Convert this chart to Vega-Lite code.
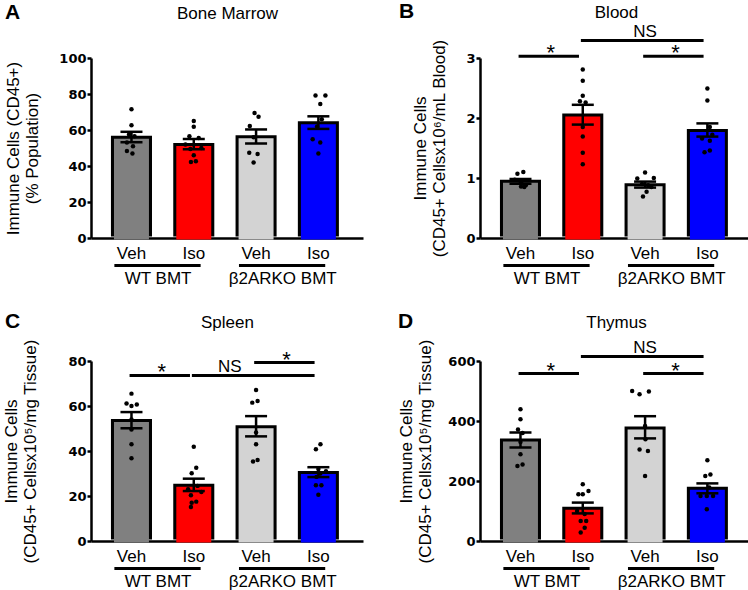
{
  "$schema": "https://vega.github.io/schema/vega-lite/v6.json",
  "background": "white",
  "padding": {"left": 2, "top": 1, "right": 0, "bottom": 0},
  "columns": 2,
  "spacing": {"row": 123, "column": 117},
  "bounds": "flush",
  "datasets": {
    "summary": [
      {"p": "A", "g": "WT|Veh", "mean": 56, "lo": 53.2, "hi": 59.0},
      {"p": "A", "g": "WT|Iso", "mean": 52, "lo": 49.3, "hi": 55.0},
      {"p": "A", "g": "KO|Veh", "mean": 56.3, "lo": 52.5, "hi": 60.3},
      {"p": "A", "g": "KO|Iso", "mean": 64, "lo": 60.6, "hi": 67.6},
      {"p": "B", "g": "WT|Veh", "mean": 0.945, "lo": 0.905, "hi": 0.985},
      {"p": "B", "g": "WT|Iso", "mean": 2.05, "lo": 1.89, "hi": 2.22},
      {"p": "B", "g": "KO|Veh", "mean": 0.888, "lo": 0.84, "hi": 0.94},
      {"p": "B", "g": "KO|Iso", "mean": 1.79, "lo": 1.69, "hi": 1.91},
      {"p": "C", "g": "WT|Veh", "mean": 53.6, "lo": 50.1, "hi": 57.3},
      {"p": "C", "g": "WT|Iso", "mean": 24.8, "lo": 22.2, "hi": 27.7},
      {"p": "C", "g": "KO|Veh", "mean": 50.8, "lo": 46.5, "hi": 55.5},
      {"p": "C", "g": "KO|Iso", "mean": 30.4, "lo": 28.4, "hi": 32.8},
      {"p": "D", "g": "WT|Veh", "mean": 336.7, "lo": 312, "hi": 362},
      {"p": "D", "g": "WT|Iso", "mean": 109, "lo": 92, "hi": 128},
      {"p": "D", "g": "KO|Veh", "mean": 376.7, "lo": 342, "hi": 416},
      {"p": "D", "g": "KO|Iso", "mean": 175.6, "lo": 159, "hi": 192}
    ],
    "points": [
      {"p": "A", "g": "WT|Veh", "v": 71.5, "j": 0},
      {"p": "A", "g": "WT|Veh", "v": 62.7, "j": 0},
      {"p": "A", "g": "WT|Veh", "v": 57.5, "j": -0.13},
      {"p": "A", "g": "WT|Veh", "v": 56.5, "j": 0.16},
      {"p": "A", "g": "WT|Veh", "v": 53, "j": -0.24},
      {"p": "A", "g": "WT|Veh", "v": 51, "j": 0.08},
      {"p": "A", "g": "WT|Veh", "v": 48.3, "j": -0.24},
      {"p": "A", "g": "WT|Veh", "v": 47, "j": 0.05},
      {"p": "A", "g": "WT|Iso", "v": 65, "j": 0},
      {"p": "A", "g": "WT|Iso", "v": 61.8, "j": 0},
      {"p": "A", "g": "WT|Iso", "v": 56.5, "j": -0.23},
      {"p": "A", "g": "WT|Iso", "v": 55.5, "j": 0.26},
      {"p": "A", "g": "WT|Iso", "v": 52, "j": -0.44},
      {"p": "A", "g": "WT|Iso", "v": 50, "j": 0.4},
      {"p": "A", "g": "WT|Iso", "v": 49.5, "j": -0.18},
      {"p": "A", "g": "WT|Iso", "v": 46, "j": 0},
      {"p": "A", "g": "WT|Iso", "v": 42.2, "j": -0.15},
      {"p": "A", "g": "WT|Iso", "v": 42.6, "j": 0.11},
      {"p": "A", "g": "KO|Veh", "v": 69.5, "j": -0.08},
      {"p": "A", "g": "KO|Veh", "v": 67.3, "j": 0.13},
      {"p": "A", "g": "KO|Veh", "v": 62.2, "j": -0.33},
      {"p": "A", "g": "KO|Veh", "v": 56, "j": -0.13},
      {"p": "A", "g": "KO|Veh", "v": 47.4, "j": -0.36},
      {"p": "A", "g": "KO|Veh", "v": 46.7, "j": 0.08},
      {"p": "A", "g": "KO|Veh", "v": 41.9, "j": -0.13},
      {"p": "A", "g": "KO|Iso", "v": 79.2, "j": -0.15},
      {"p": "A", "g": "KO|Iso", "v": 79.2, "j": 0.37},
      {"p": "A", "g": "KO|Iso", "v": 74.4, "j": 0.1},
      {"p": "A", "g": "KO|Iso", "v": 66, "j": 0.18},
      {"p": "A", "g": "KO|Iso", "v": 62, "j": -0.07},
      {"p": "A", "g": "KO|Iso", "v": 54.8, "j": -0.3},
      {"p": "A", "g": "KO|Iso", "v": 53, "j": 0.1},
      {"p": "A", "g": "KO|Iso", "v": 47, "j": 0},
      {"p": "B", "g": "WT|Veh", "v": 1.1, "j": 0.15},
      {"p": "B", "g": "WT|Veh", "v": 1.07, "j": -0.16},
      {"p": "B", "g": "WT|Veh", "v": 0.97, "j": -0.3},
      {"p": "B", "g": "WT|Veh", "v": 0.93, "j": 0.03},
      {"p": "B", "g": "WT|Veh", "v": 0.88, "j": 0.28},
      {"p": "B", "g": "WT|Veh", "v": 0.86, "j": 0.03},
      {"p": "B", "g": "WT|Veh", "v": 0.85, "j": 0.2},
      {"p": "B", "g": "WT|Iso", "v": 2.81, "j": 0},
      {"p": "B", "g": "WT|Iso", "v": 2.62, "j": 0},
      {"p": "B", "g": "WT|Iso", "v": 2.37, "j": 0},
      {"p": "B", "g": "WT|Iso", "v": 2.28, "j": -0.15},
      {"p": "B", "g": "WT|Iso", "v": 2.26, "j": 0.15},
      {"p": "B", "g": "WT|Iso", "v": 1.85, "j": 0},
      {"p": "B", "g": "WT|Iso", "v": 1.69, "j": 0},
      {"p": "B", "g": "WT|Iso", "v": 1.42, "j": 0},
      {"p": "B", "g": "WT|Iso", "v": 1.23, "j": 0},
      {"p": "B", "g": "KO|Veh", "v": 1.09, "j": 0},
      {"p": "B", "g": "KO|Veh", "v": 0.99, "j": -0.41},
      {"p": "B", "g": "KO|Veh", "v": 1.0, "j": 0.46},
      {"p": "B", "g": "KO|Veh", "v": 0.9, "j": -0.16},
      {"p": "B", "g": "KO|Veh", "v": 0.88, "j": 0.16},
      {"p": "B", "g": "KO|Veh", "v": 0.85, "j": 0.33},
      {"p": "B", "g": "KO|Veh", "v": 0.77, "j": 0.08},
      {"p": "B", "g": "KO|Veh", "v": 0.69, "j": -0.11},
      {"p": "B", "g": "KO|Iso", "v": 2.49, "j": 0},
      {"p": "B", "g": "KO|Iso", "v": 2.29, "j": 0},
      {"p": "B", "g": "KO|Iso", "v": 1.85, "j": 0.13},
      {"p": "B", "g": "KO|Iso", "v": 1.72, "j": 0.26},
      {"p": "B", "g": "KO|Iso", "v": 1.66, "j": -0.28},
      {"p": "B", "g": "KO|Iso", "v": 1.62, "j": 0.13},
      {"p": "B", "g": "KO|Iso", "v": 1.46, "j": 0.13},
      {"p": "B", "g": "KO|Iso", "v": 1.43, "j": -0.15},
      {"p": "C", "g": "WT|Veh", "v": 65.5, "j": 0},
      {"p": "C", "g": "WT|Veh", "v": 61.1, "j": -0.26},
      {"p": "C", "g": "WT|Veh", "v": 60, "j": 0},
      {"p": "C", "g": "WT|Veh", "v": 60.7, "j": 0.28},
      {"p": "C", "g": "WT|Veh", "v": 54, "j": 0},
      {"p": "C", "g": "WT|Veh", "v": 49.6, "j": 0},
      {"p": "C", "g": "WT|Veh", "v": 43, "j": 0},
      {"p": "C", "g": "WT|Veh", "v": 36.8, "j": 0},
      {"p": "C", "g": "WT|Iso", "v": 41.9, "j": 0},
      {"p": "C", "g": "WT|Iso", "v": 32.6, "j": 0.13},
      {"p": "C", "g": "WT|Iso", "v": 30.1, "j": -0.11},
      {"p": "C", "g": "WT|Iso", "v": 24.5, "j": 0.2},
      {"p": "C", "g": "WT|Iso", "v": 23, "j": -0.3},
      {"p": "C", "g": "WT|Iso", "v": 21.8, "j": 0.4},
      {"p": "C", "g": "WT|Iso", "v": 20.3, "j": -0.15},
      {"p": "C", "g": "WT|Iso", "v": 17.5, "j": 0.13},
      {"p": "C", "g": "WT|Iso", "v": 17, "j": -0.11},
      {"p": "C", "g": "WT|Iso", "v": 15.1, "j": -0.15},
      {"p": "C", "g": "KO|Veh", "v": 67.1, "j": 0},
      {"p": "C", "g": "KO|Veh", "v": 61.5, "j": -0.2},
      {"p": "C", "g": "KO|Veh", "v": 62.2, "j": 0.08},
      {"p": "C", "g": "KO|Veh", "v": 48.2, "j": 0},
      {"p": "C", "g": "KO|Veh", "v": 43, "j": 0},
      {"p": "C", "g": "KO|Veh", "v": 35.3, "j": -0.16},
      {"p": "C", "g": "KO|Veh", "v": 36, "j": 0.08},
      {"p": "C", "g": "KO|Iso", "v": 43, "j": 0.11},
      {"p": "C", "g": "KO|Iso", "v": 40.8, "j": -0.13},
      {"p": "C", "g": "KO|Iso", "v": 32, "j": 0},
      {"p": "C", "g": "KO|Iso", "v": 31, "j": 0.4},
      {"p": "C", "g": "KO|Iso", "v": 30, "j": 0.1},
      {"p": "C", "g": "KO|Iso", "v": 28.5, "j": -0.1},
      {"p": "C", "g": "KO|Iso", "v": 24.8, "j": -0.13},
      {"p": "C", "g": "KO|Iso", "v": 24.8, "j": 0.16},
      {"p": "C", "g": "KO|Iso", "v": 20.6, "j": 0},
      {"p": "D", "g": "WT|Veh", "v": 439, "j": 0},
      {"p": "D", "g": "WT|Veh", "v": 405.6, "j": 0},
      {"p": "D", "g": "WT|Veh", "v": 372, "j": -0.13},
      {"p": "D", "g": "WT|Veh", "v": 360, "j": 0.11},
      {"p": "D", "g": "WT|Veh", "v": 330, "j": 0},
      {"p": "D", "g": "WT|Veh", "v": 289, "j": 0},
      {"p": "D", "g": "WT|Veh", "v": 250, "j": -0.16},
      {"p": "D", "g": "WT|Veh", "v": 255, "j": 0.11},
      {"p": "D", "g": "WT|Iso", "v": 189, "j": 0},
      {"p": "D", "g": "WT|Iso", "v": 166.7, "j": 0.3},
      {"p": "D", "g": "WT|Iso", "v": 155.6, "j": -0.23},
      {"p": "D", "g": "WT|Iso", "v": 155.6, "j": 0},
      {"p": "D", "g": "WT|Iso", "v": 100, "j": -0.3},
      {"p": "D", "g": "WT|Iso", "v": 90, "j": 0.1},
      {"p": "D", "g": "WT|Iso", "v": 66.7, "j": -0.11},
      {"p": "D", "g": "WT|Iso", "v": 66.7, "j": 0.18},
      {"p": "D", "g": "WT|Iso", "v": 44.4, "j": 0.1},
      {"p": "D", "g": "WT|Iso", "v": 28, "j": -0.11},
      {"p": "D", "g": "KO|Veh", "v": 500, "j": -0.68},
      {"p": "D", "g": "KO|Veh", "v": 489, "j": -0.29},
      {"p": "D", "g": "KO|Veh", "v": 498, "j": 0.2},
      {"p": "D", "g": "KO|Veh", "v": 383, "j": 0},
      {"p": "D", "g": "KO|Veh", "v": 339, "j": 0.02},
      {"p": "D", "g": "KO|Veh", "v": 305, "j": -0.29},
      {"p": "D", "g": "KO|Veh", "v": 300, "j": 0.15},
      {"p": "D", "g": "KO|Veh", "v": 217, "j": 0},
      {"p": "D", "g": "KO|Iso", "v": 269, "j": 0},
      {"p": "D", "g": "KO|Iso", "v": 222, "j": 0.16},
      {"p": "D", "g": "KO|Iso", "v": 217, "j": -0.11},
      {"p": "D", "g": "KO|Iso", "v": 178, "j": 0.1},
      {"p": "D", "g": "KO|Iso", "v": 150, "j": -0.36},
      {"p": "D", "g": "KO|Iso", "v": 150, "j": -0.03},
      {"p": "D", "g": "KO|Iso", "v": 150, "j": 0.3},
      {"p": "D", "g": "KO|Iso", "v": 106, "j": -0.03}
    ],
    "brackets": [
      {"p": "B", "from": "WT|Veh", "to": "WT|Iso", "y": 3.03},
      {"p": "B", "from": "WT|Iso", "to": "KO|Iso", "y": 3.29},
      {"p": "B", "from": "KO|Veh", "to": "KO|Iso", "y": 3.03},
      {"p": "C", "from": "WT|Veh", "to": "WT|Iso", "y": 73.6},
      {"p": "C", "from": "WT|Iso", "to": "KO|Iso", "y": 73.6},
      {"p": "C", "from": "KO|Veh", "to": "KO|Iso", "y": 79.3},
      {"p": "D", "from": "WT|Veh", "to": "WT|Iso", "y": 558},
      {"p": "D", "from": "WT|Iso", "to": "KO|Iso", "y": 615},
      {"p": "D", "from": "KO|Veh", "to": "KO|Iso", "y": 558}
    ],
    "notes": [
      {"p": "B", "label": "*", "at": "WT|Veh", "y": 3.03},
      {"p": "B", "label": "NS", "at": "KO|Veh", "y": 3.29},
      {"p": "B", "label": "*", "at": "KO|Veh", "y": 3.03},
      {"p": "C", "label": "*", "at": "WT|Veh", "y": 73.6},
      {"p": "C", "label": "NS", "at": "WT|Iso", "y": 73.6},
      {"p": "C", "label": "*", "at": "KO|Veh", "y": 79.3},
      {"p": "D", "label": "*", "at": "WT|Veh", "y": 558},
      {"p": "D", "label": "NS", "at": "KO|Veh", "y": 615},
      {"p": "D", "label": "*", "at": "KO|Veh", "y": 558}
    ],
    "groups": [
      {"label": "WT BMT", "from": "WT|Veh", "to": "WT|Iso"},
      {"label": "β2ARKO BMT", "from": "KO|Veh", "to": "KO|Iso"}
    ]
  },
  "concat": [
    {
      "width": 272, "height": 180,
      "title": {"text": "A", "anchor": "start", "frame": "group", "fontSize": 21, "fontWeight": "bold", "font": "Liberation Sans", "offset": -19, "dx": -86},
      "resolve": {"axis": {"x": "independent"}, "scale": {"xOffset": "independent"}},
      "layer": [
        {
          "data": {"name": "summary"}, "transform": [{"filter": "datum.p == 'A'"}],
          "mark": {"type": "bar", "color": "black", "width": {"band": 1.08}, "yOffset": -1.5},
          "encoding": {
            "x": {"field": "g", "type": "nominal", "scale": {"domain": ["WT|Veh", "WT|Iso", "KO|Veh", "KO|Iso"], "paddingInner": 0.39, "paddingOuter": 0.378, "align": 0.456}, "axis": {"title": null, "labelExpr": "split(datum.value, '|')[1]"}},
            "y": {"field": "mean", "type": "quantitative", "scale": {"domain": [0, 100], "nice": false}, "axis": {"values": [0, 20, 40, 60, 80, 100], "tickCount": 10, "format": "d", "labelOverlap": false, "title": ["Immune Cells (CD45+)", "(% Population)"], "titlePadding": 17}}
          }
        },
        {
          "data": {"name": "summary"}, "transform": [{"filter": "datum.p == 'A'"}],
          "mark": {"type": "bar", "width": {"band": 0.92}, "yOffset": 1.5},
          "encoding": {
            "x": {"field": "g", "type": "nominal", "axis": null},
            "y": {"field": "mean", "type": "quantitative"},
            "fill": {"field": "g", "type": "nominal", "scale": {"domain": ["WT|Veh", "WT|Iso", "KO|Veh", "KO|Iso"], "range": ["#808080", "#ff0000", "#d3d3d3", "#0000ff"]}, "legend": null}
          }
        },
        {
          "data": {"name": "points"}, "transform": [{"filter": "datum.p == 'A'"}],
          "mark": {"type": "circle", "size": 20, "color": "black", "opacity": 1},
          "encoding": {
            "x": {"field": "g", "type": "nominal", "axis": {"orient": "top", "title": "Bone Marrow", "titlePadding": 36}},
            "xOffset": {"field": "j", "type": "quantitative", "scale": {"domain": [-1, 1]}},
            "y": {"field": "v", "type": "quantitative"}
          }
        },
        {
          "data": {"name": "summary"}, "transform": [{"filter": "datum.p == 'A'"}],
          "mark": {"type": "rule", "color": "black", "strokeWidth": 2.5},
          "encoding": {
            "x": {"field": "g", "type": "nominal", "axis": null},
            "y": {"field": "lo", "type": "quantitative"},
            "y2": {"field": "hi"}
          }
        },
        {
          "data": {"name": "summary"}, "transform": [{"filter": "datum.p == 'A'"}],
          "mark": {"type": "tick", "color": "black", "size": 22, "thickness": 2.5, "opacity": 1},
          "encoding": {
            "x": {"field": "g", "type": "nominal", "axis": null},
            "y": {"field": "lo", "type": "quantitative"}
          }
        },
        {
          "data": {"name": "summary"}, "transform": [{"filter": "datum.p == 'A'"}],
          "mark": {"type": "tick", "color": "black", "size": 22, "thickness": 2.5, "opacity": 1},
          "encoding": {
            "x": {"field": "g", "type": "nominal", "axis": null},
            "y": {"field": "hi", "type": "quantitative"}
          }
        },
        {
          "data": {"name": "groups"},
          "mark": {"type": "rule", "color": "black", "strokeWidth": 3, "yOffset": 27.5},
          "encoding": {
            "x": {"field": "from", "type": "nominal", "bandPosition": 0.05, "axis": null},
            "x2": {"field": "to", "bandPosition": 0.68},
            "y": {"datum": 0}
          }
        },
        {
          "data": {"name": "groups"},
          "mark": {"type": "text", "color": "black", "fontSize": 17, "font": "Liberation Sans", "baseline": "alphabetic", "dy": 45.5},
          "encoding": {
            "x": {"field": "from", "type": "nominal", "bandPosition": 1.2, "axis": null},
            "y": {"datum": 0},
            "text": {"field": "label"}
          }
        }
      ]
    },
    {
      "width": 272, "height": 180,
      "title": {"text": "B", "anchor": "start", "frame": "group", "fontSize": 21, "fontWeight": "bold", "font": "Liberation Sans", "offset": -19, "dx": -81},
      "resolve": {"axis": {"x": "independent"}, "scale": {"xOffset": "independent"}},
      "layer": [
        {
          "data": {"name": "summary"}, "transform": [{"filter": "datum.p == 'B'"}],
          "mark": {"type": "bar", "color": "black", "width": {"band": 1.08}, "yOffset": -1.5},
          "encoding": {
            "x": {"field": "g", "type": "nominal", "scale": {"domain": ["WT|Veh", "WT|Iso", "KO|Veh", "KO|Iso"], "paddingInner": 0.39, "paddingOuter": 0.378, "align": 0.456}, "axis": {"title": null, "labelExpr": "split(datum.value, '|')[1]"}},
            "y": {"field": "mean", "type": "quantitative", "scale": {"domain": [0, 3], "nice": false}, "axis": {"values": [0, 1, 2, 3], "tickCount": 10, "format": "d", "labelOverlap": false, "title": ["Immune Cells", "(CD45+ Cellsx10⁶/mL Blood)"], "titlePadding": 17}}
          }
        },
        {
          "data": {"name": "summary"}, "transform": [{"filter": "datum.p == 'B'"}],
          "mark": {"type": "bar", "width": {"band": 0.92}, "yOffset": 1.5},
          "encoding": {
            "x": {"field": "g", "type": "nominal", "axis": null},
            "y": {"field": "mean", "type": "quantitative"},
            "fill": {"field": "g", "type": "nominal", "scale": {"domain": ["WT|Veh", "WT|Iso", "KO|Veh", "KO|Iso"], "range": ["#808080", "#ff0000", "#d3d3d3", "#0000ff"]}, "legend": null}
          }
        },
        {
          "data": {"name": "points"}, "transform": [{"filter": "datum.p == 'B'"}],
          "mark": {"type": "circle", "size": 20, "color": "black", "opacity": 1},
          "encoding": {
            "x": {"field": "g", "type": "nominal", "axis": {"orient": "top", "title": "Blood", "titlePadding": 37}},
            "xOffset": {"field": "j", "type": "quantitative", "scale": {"domain": [-1, 1]}},
            "y": {"field": "v", "type": "quantitative"}
          }
        },
        {
          "data": {"name": "summary"}, "transform": [{"filter": "datum.p == 'B'"}],
          "mark": {"type": "rule", "color": "black", "strokeWidth": 2.5},
          "encoding": {
            "x": {"field": "g", "type": "nominal", "axis": null},
            "y": {"field": "lo", "type": "quantitative"},
            "y2": {"field": "hi"}
          }
        },
        {
          "data": {"name": "summary"}, "transform": [{"filter": "datum.p == 'B'"}],
          "mark": {"type": "tick", "color": "black", "size": 22, "thickness": 2.5, "opacity": 1},
          "encoding": {
            "x": {"field": "g", "type": "nominal", "axis": null},
            "y": {"field": "lo", "type": "quantitative"}
          }
        },
        {
          "data": {"name": "summary"}, "transform": [{"filter": "datum.p == 'B'"}],
          "mark": {"type": "tick", "color": "black", "size": 22, "thickness": 2.5, "opacity": 1},
          "encoding": {
            "x": {"field": "g", "type": "nominal", "axis": null},
            "y": {"field": "hi", "type": "quantitative"}
          }
        },
        {
          "data": {"name": "brackets"}, "transform": [{"filter": "datum.p == 'B'"}],
          "mark": {"type": "rule", "color": "black", "strokeWidth": 3},
          "encoding": {
            "x": {"field": "from", "type": "nominal", "bandPosition": 0.45, "axis": null},
            "x2": {"field": "to", "bandPosition": 0.4},
            "y": {"field": "y", "type": "quantitative"}
          }
        },
        {
          "data": {"name": "notes"}, "transform": [{"filter": "datum.p == 'B' && datum.label == '*'"}],
          "mark": {"type": "text", "color": "black", "fontSize": 22, "font": "Liberation Sans", "baseline": "alphabetic", "dy": 4},
          "encoding": {
            "x": {"field": "at", "type": "nominal", "bandPosition": 1.3, "axis": null},
            "y": {"field": "y", "type": "quantitative"},
            "text": {"field": "label"}
          }
        },
        {
          "data": {"name": "notes"}, "transform": [{"filter": "datum.p == 'B' && datum.label == 'NS'"}],
          "mark": {"type": "text", "color": "black", "fontSize": 17, "font": "Liberation Sans", "baseline": "alphabetic", "dy": -3.5},
          "encoding": {
            "x": {"field": "at", "type": "nominal", "bandPosition": 0.5, "axis": null},
            "y": {"field": "y", "type": "quantitative"},
            "text": {"field": "label"}
          }
        },
        {
          "data": {"name": "groups"},
          "mark": {"type": "rule", "color": "black", "strokeWidth": 3, "yOffset": 27.5},
          "encoding": {
            "x": {"field": "from", "type": "nominal", "bandPosition": 0.05, "axis": null},
            "x2": {"field": "to", "bandPosition": 0.68},
            "y": {"datum": 0}
          }
        },
        {
          "data": {"name": "groups"},
          "mark": {"type": "text", "color": "black", "fontSize": 17, "font": "Liberation Sans", "baseline": "alphabetic", "dy": 45.5},
          "encoding": {
            "x": {"field": "from", "type": "nominal", "bandPosition": 1.2, "axis": null},
            "y": {"datum": 0},
            "text": {"field": "label"}
          }
        }
      ]
    },
    {
      "width": 272, "height": 180,
      "title": {"text": "C", "anchor": "start", "frame": "group", "fontSize": 21, "fontWeight": "bold", "font": "Liberation Sans", "offset": -19, "dx": -86},
      "resolve": {"axis": {"x": "independent"}, "scale": {"xOffset": "independent"}},
      "layer": [
        {
          "data": {"name": "summary"}, "transform": [{"filter": "datum.p == 'C'"}],
          "mark": {"type": "bar", "color": "black", "width": {"band": 1.08}, "yOffset": -1.5},
          "encoding": {
            "x": {"field": "g", "type": "nominal", "scale": {"domain": ["WT|Veh", "WT|Iso", "KO|Veh", "KO|Iso"], "paddingInner": 0.39, "paddingOuter": 0.378, "align": 0.456}, "axis": {"title": null, "labelExpr": "split(datum.value, '|')[1]"}},
            "y": {"field": "mean", "type": "quantitative", "scale": {"domain": [0, 80], "nice": false}, "axis": {"values": [0, 20, 40, 60, 80], "tickCount": 10, "format": "d", "labelOverlap": false, "title": ["Immune Cells", "(CD45+ Cellsx10⁵/mg Tissue)"], "titlePadding": 28}}
          }
        },
        {
          "data": {"name": "summary"}, "transform": [{"filter": "datum.p == 'C'"}],
          "mark": {"type": "bar", "width": {"band": 0.92}, "yOffset": 1.5},
          "encoding": {
            "x": {"field": "g", "type": "nominal", "axis": null},
            "y": {"field": "mean", "type": "quantitative"},
            "fill": {"field": "g", "type": "nominal", "scale": {"domain": ["WT|Veh", "WT|Iso", "KO|Veh", "KO|Iso"], "range": ["#808080", "#ff0000", "#d3d3d3", "#0000ff"]}, "legend": null}
          }
        },
        {
          "data": {"name": "points"}, "transform": [{"filter": "datum.p == 'C'"}],
          "mark": {"type": "circle", "size": 20, "color": "black", "opacity": 1},
          "encoding": {
            "x": {"field": "g", "type": "nominal", "axis": {"orient": "top", "title": "Spleen", "titlePadding": 30}},
            "xOffset": {"field": "j", "type": "quantitative", "scale": {"domain": [-1, 1]}},
            "y": {"field": "v", "type": "quantitative"}
          }
        },
        {
          "data": {"name": "summary"}, "transform": [{"filter": "datum.p == 'C'"}],
          "mark": {"type": "rule", "color": "black", "strokeWidth": 2.5},
          "encoding": {
            "x": {"field": "g", "type": "nominal", "axis": null},
            "y": {"field": "lo", "type": "quantitative"},
            "y2": {"field": "hi"}
          }
        },
        {
          "data": {"name": "summary"}, "transform": [{"filter": "datum.p == 'C'"}],
          "mark": {"type": "tick", "color": "black", "size": 22, "thickness": 2.5, "opacity": 1},
          "encoding": {
            "x": {"field": "g", "type": "nominal", "axis": null},
            "y": {"field": "lo", "type": "quantitative"}
          }
        },
        {
          "data": {"name": "summary"}, "transform": [{"filter": "datum.p == 'C'"}],
          "mark": {"type": "tick", "color": "black", "size": 22, "thickness": 2.5, "opacity": 1},
          "encoding": {
            "x": {"field": "g", "type": "nominal", "axis": null},
            "y": {"field": "hi", "type": "quantitative"}
          }
        },
        {
          "data": {"name": "brackets"}, "transform": [{"filter": "datum.p == 'C'"}],
          "mark": {"type": "rule", "color": "black", "strokeWidth": 3},
          "encoding": {
            "x": {"field": "from", "type": "nominal", "bandPosition": 0.45, "axis": null},
            "x2": {"field": "to", "bandPosition": 0.4},
            "y": {"field": "y", "type": "quantitative"}
          }
        },
        {
          "data": {"name": "notes"}, "transform": [{"filter": "datum.p == 'C' && datum.label == '*'"}],
          "mark": {"type": "text", "color": "black", "fontSize": 22, "font": "Liberation Sans", "baseline": "alphabetic", "dy": 4},
          "encoding": {
            "x": {"field": "at", "type": "nominal", "bandPosition": 1.3, "axis": null},
            "y": {"field": "y", "type": "quantitative"},
            "text": {"field": "label"}
          }
        },
        {
          "data": {"name": "notes"}, "transform": [{"filter": "datum.p == 'C' && datum.label == 'NS'"}],
          "mark": {"type": "text", "color": "black", "fontSize": 17, "font": "Liberation Sans", "baseline": "alphabetic", "dy": -3.5},
          "encoding": {
            "x": {"field": "at", "type": "nominal", "bandPosition": 1.45, "axis": null},
            "y": {"field": "y", "type": "quantitative"},
            "text": {"field": "label"}
          }
        },
        {
          "data": {"name": "groups"},
          "mark": {"type": "rule", "color": "black", "strokeWidth": 3, "yOffset": 27.5},
          "encoding": {
            "x": {"field": "from", "type": "nominal", "bandPosition": 0.05, "axis": null},
            "x2": {"field": "to", "bandPosition": 0.68},
            "y": {"datum": 0}
          }
        },
        {
          "data": {"name": "groups"},
          "mark": {"type": "text", "color": "black", "fontSize": 17, "font": "Liberation Sans", "baseline": "alphabetic", "dy": 45.5},
          "encoding": {
            "x": {"field": "from", "type": "nominal", "bandPosition": 1.2, "axis": null},
            "y": {"datum": 0},
            "text": {"field": "label"}
          }
        }
      ]
    },
    {
      "width": 272, "height": 180,
      "title": {"text": "D", "anchor": "start", "frame": "group", "fontSize": 21, "fontWeight": "bold", "font": "Liberation Sans", "offset": -19, "dx": -82},
      "resolve": {"axis": {"x": "independent"}, "scale": {"xOffset": "independent"}},
      "layer": [
        {
          "data": {"name": "summary"}, "transform": [{"filter": "datum.p == 'D'"}],
          "mark": {"type": "bar", "color": "black", "width": {"band": 1.08}, "yOffset": -1.5},
          "encoding": {
            "x": {"field": "g", "type": "nominal", "scale": {"domain": ["WT|Veh", "WT|Iso", "KO|Veh", "KO|Iso"], "paddingInner": 0.39, "paddingOuter": 0.378, "align": 0.456}, "axis": {"title": null, "labelExpr": "split(datum.value, '|')[1]"}},
            "y": {"field": "mean", "type": "quantitative", "scale": {"domain": [0, 600], "nice": false}, "axis": {"values": [0, 200, 400, 600], "tickCount": 10, "format": "d", "labelOverlap": false, "title": ["Immune Cells", "(CD45+ Cellsx10⁵/mg Tissue)"], "titlePadding": 13}}
          }
        },
        {
          "data": {"name": "summary"}, "transform": [{"filter": "datum.p == 'D'"}],
          "mark": {"type": "bar", "width": {"band": 0.92}, "yOffset": 1.5},
          "encoding": {
            "x": {"field": "g", "type": "nominal", "axis": null},
            "y": {"field": "mean", "type": "quantitative"},
            "fill": {"field": "g", "type": "nominal", "scale": {"domain": ["WT|Veh", "WT|Iso", "KO|Veh", "KO|Iso"], "range": ["#808080", "#ff0000", "#d3d3d3", "#0000ff"]}, "legend": null}
          }
        },
        {
          "data": {"name": "points"}, "transform": [{"filter": "datum.p == 'D'"}],
          "mark": {"type": "circle", "size": 20, "color": "black", "opacity": 1},
          "encoding": {
            "x": {"field": "g", "type": "nominal", "axis": {"orient": "top", "title": "Thymus", "titlePadding": 30}},
            "xOffset": {"field": "j", "type": "quantitative", "scale": {"domain": [-1, 1]}},
            "y": {"field": "v", "type": "quantitative"}
          }
        },
        {
          "data": {"name": "summary"}, "transform": [{"filter": "datum.p == 'D'"}],
          "mark": {"type": "rule", "color": "black", "strokeWidth": 2.5},
          "encoding": {
            "x": {"field": "g", "type": "nominal", "axis": null},
            "y": {"field": "lo", "type": "quantitative"},
            "y2": {"field": "hi"}
          }
        },
        {
          "data": {"name": "summary"}, "transform": [{"filter": "datum.p == 'D'"}],
          "mark": {"type": "tick", "color": "black", "size": 22, "thickness": 2.5, "opacity": 1},
          "encoding": {
            "x": {"field": "g", "type": "nominal", "axis": null},
            "y": {"field": "lo", "type": "quantitative"}
          }
        },
        {
          "data": {"name": "summary"}, "transform": [{"filter": "datum.p == 'D'"}],
          "mark": {"type": "tick", "color": "black", "size": 22, "thickness": 2.5, "opacity": 1},
          "encoding": {
            "x": {"field": "g", "type": "nominal", "axis": null},
            "y": {"field": "hi", "type": "quantitative"}
          }
        },
        {
          "data": {"name": "brackets"}, "transform": [{"filter": "datum.p == 'D'"}],
          "mark": {"type": "rule", "color": "black", "strokeWidth": 3},
          "encoding": {
            "x": {"field": "from", "type": "nominal", "bandPosition": 0.45, "axis": null},
            "x2": {"field": "to", "bandPosition": 0.4},
            "y": {"field": "y", "type": "quantitative"}
          }
        },
        {
          "data": {"name": "notes"}, "transform": [{"filter": "datum.p == 'D' && datum.label == '*'"}],
          "mark": {"type": "text", "color": "black", "fontSize": 22, "font": "Liberation Sans", "baseline": "alphabetic", "dy": 4},
          "encoding": {
            "x": {"field": "at", "type": "nominal", "bandPosition": 1.3, "axis": null},
            "y": {"field": "y", "type": "quantitative"},
            "text": {"field": "label"}
          }
        },
        {
          "data": {"name": "notes"}, "transform": [{"filter": "datum.p == 'D' && datum.label == 'NS'"}],
          "mark": {"type": "text", "color": "black", "fontSize": 17, "font": "Liberation Sans", "baseline": "alphabetic", "dy": -3.5},
          "encoding": {
            "x": {"field": "at", "type": "nominal", "bandPosition": 0.5, "axis": null},
            "y": {"field": "y", "type": "quantitative"},
            "text": {"field": "label"}
          }
        },
        {
          "data": {"name": "groups"},
          "mark": {"type": "rule", "color": "black", "strokeWidth": 3, "yOffset": 27.5},
          "encoding": {
            "x": {"field": "from", "type": "nominal", "bandPosition": 0.05, "axis": null},
            "x2": {"field": "to", "bandPosition": 0.68},
            "y": {"datum": 0}
          }
        },
        {
          "data": {"name": "groups"},
          "mark": {"type": "text", "color": "black", "fontSize": 17, "font": "Liberation Sans", "baseline": "alphabetic", "dy": 45.5},
          "encoding": {
            "x": {"field": "from", "type": "nominal", "bandPosition": 1.2, "axis": null},
            "y": {"datum": 0},
            "text": {"field": "label"}
          }
        }
      ]
    }
  ],
  "config": {
    "font": "Liberation Sans",
    "view": {"stroke": null},
    "axis": {"grid": false, "domainColor": "black", "tickColor": "black", "labelColor": "black", "titleColor": "black", "domainWidth": 2.5, "tickWidth": 2.5, "titleFont": "Liberation Sans", "titleFontWeight": "normal", "titleFontSize": 17},
    "axisBottom": {"ticks": false, "tickSize": 0, "labelPadding": 7, "labelFont": "Liberation Sans", "labelFontSize": 17, "labelAngle": 0},
    "axisTop": {"labels": false, "ticks": false, "domain": false, "tickSize": 0},
    "axisLeft": {"tickSize": 4, "labelFont": "DejaVu Sans", "labelFontWeight": "bold", "labelFontSize": 13, "labelPadding": 1, "titleLineHeight": 19, "minExtent": 0, "labelOverlap": false}
  }
}
